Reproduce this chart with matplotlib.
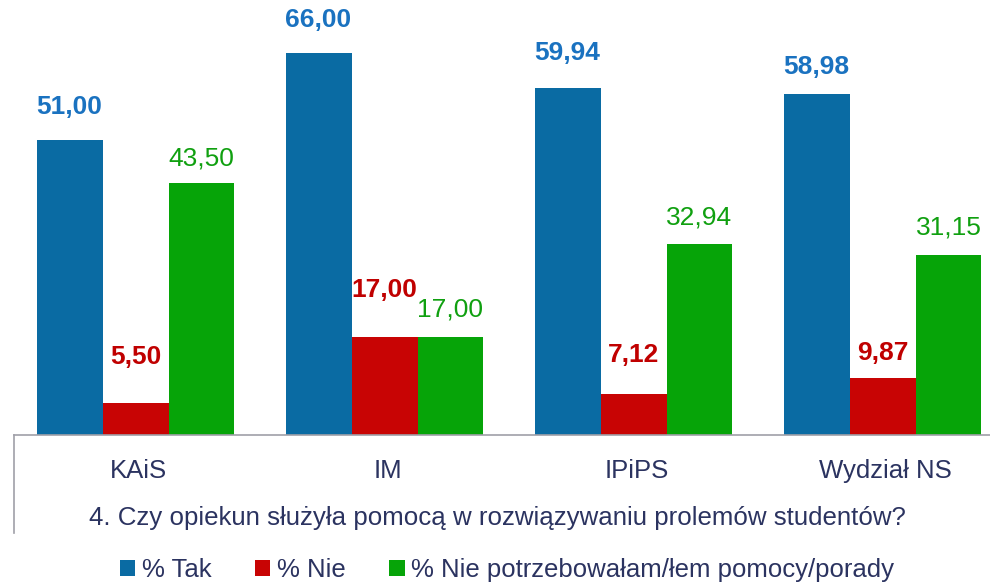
import matplotlib
matplotlib.use("Agg")
import matplotlib.pyplot as plt
from matplotlib.lines import Line2D
from matplotlib.patches import Patch
import numpy as np

categories = ["KAiS", "IM", "IPiPS", "Wydział NS"]
tak = [51.00, 66.00, 59.94, 58.98]
nie = [5.50, 17.00, 7.12, 9.87]
nie_potrz = [43.50, 17.00, 32.94, 31.15]
series_names = ["% Tak", "% Nie", "% Nie potrzebowałam/łem pomocy/porady"]
title = "4. Czy opiekun służyła pomocą w rozwiązywaniu prolemów studentów?"

bar_colors = ["#0a6ba3", "#c80404", "#06a408"]
label_colors = ["#1a72c0", "#c00000", "#10a010"]
text_color = "#2b3360"

plt.rcParams["font.family"] = ["Liberation Sans", "DejaVu Sans"]

W, H = 990, 583
fig = plt.figure(figsize=(W / 100, H / 100), dpi=100)
# axes: left edge at x=14px, baseline at y=435px, runs past right edge
ax = fig.add_axes([14 / W, 1 - 435 / H, 996 / W, 405 / H])

x = np.arange(len(categories))
bw = 0.265
offsets = [-bw, 0, bw]
# label offsets above bar top, in pixels
lab_off = [[33, 33, 35, 27], [46, 47, 39, 25], [25, 27, 27, 27]]
weights = ["bold", "bold", "normal"]

for k, vals in enumerate([tak, nie, nie_potrz]):
    ax.bar(x + offsets[k] - 0.012, vals, bw, color=bar_colors[k], linewidth=0)
    for i, v in enumerate(vals):
        ax.annotate(f"{v:.2f}".replace(".", ","), (x[i] + offsets[k] - 0.012, v),
                    xytext=(0, lab_off[k][i] * 0.72), textcoords="offset points",
                    ha="center", va="center", fontsize=19,
                    fontweight=weights[k], color=label_colors[k])

ax.set_xlim(-0.5, len(categories) - 0.5)
ax.set_ylim(0, 70)
for s in ["top", "right", "left"]:
    ax.spines[s].set_visible(False)
ax.spines["bottom"].set_color("#a0a0a8")
ax.spines["bottom"].set_linewidth(1.2)
ax.set_yticks([])
ax.set_xticks(x)
ax.set_xticklabels(categories, fontsize=18.5, color=text_color)
ax.tick_params(axis="x", length=0, pad=17)

fig.add_artist(Line2D([14 / W, 14 / W], [1 - 435 / H, 1 - 533 / H],
                      color="#a0a0a8", linewidth=1.2))

fig.text(497 / W, 1 - 525 / H, title, ha="center", va="baseline",
         fontsize=18.6, color=text_color)

handles = [Patch(facecolor=c, edgecolor="none") for c in bar_colors]
leg = fig.legend(handles, series_names, loc="center", bbox_to_anchor=(507 / W, 1 - 570 / H),
                 ncol=3, frameon=False, fontsize=18.5, handlelength=0.6, handleheight=0.6,
                 handletextpad=0.25, columnspacing=1.7, borderpad=0, borderaxespad=0)
for t in leg.get_texts():
    t.set_color(text_color)

fig.savefig("out.png", dpi=100)
